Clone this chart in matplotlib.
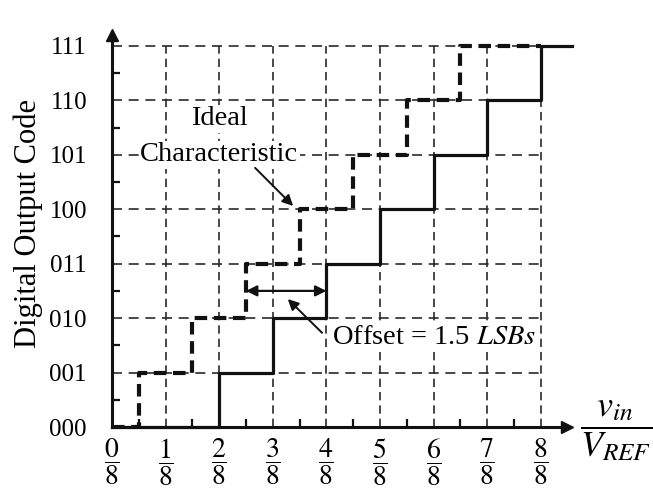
import numpy as np
import matplotlib.pyplot as plt

plt.rcParams['font.family'] = ['Liberation Serif', 'DejaVu Serif']
plt.rcParams['mathtext.fontset'] = 'stix'

# output codes 000..111 and the input levels (in units of V_REF/8)
codes = [0, 1, 2, 3, 4, 5, 6, 7]
code_labels = ['000', '001', '010', '011', '100', '101', '110', '111']
x_ticks = [0, 1, 2, 3, 4, 5, 6, 7, 8]
x_labels = [r'$\dfrac{%d}{8}$' % k for k in x_ticks]

# transition points of the two transfer curves
ideal_steps = [0, 0.5, 1.5, 2.5, 3.5, 4.5, 5.5, 6.5, 8]
actual_steps = [0, 2, 3, 4, 5, 6, 7, 8, 8.58]
step_codes = codes + [7]
offset_lsb = 1.5

fig = plt.figure(figsize=(6.53, 4.92), dpi=100)
ax = fig.add_axes([112 / 653, 65 / 492, 455 / 653, 392 / 492])
ax.set_xlim(0, 8.49)
ax.set_ylim(0, 7.2)

# dashed grid
for k in x_ticks[1:]:
    ax.plot([k, k], [0, 7], color='#2a2a2a', lw=1.2, ls=(0, (5, 3)), zorder=1)
for c in codes[1:]:
    ax.plot([0, 8], [c, c], color='#2a2a2a', lw=1.2, ls=(0, (6, 4)), zorder=1)

# transfer curves
ax.step(ideal_steps, step_codes, where='post', color='#111111', lw=3,
        ls=(0, (3, 1.6)), zorder=3)
ax.step(actual_steps, step_codes, where='post', color='#111111', lw=2.3,
        zorder=3, clip_on=False)

# axes with arrows
for s in ['top', 'right']:
    ax.spines[s].set_visible(False)
for s in ['left', 'bottom']:
    ax.spines[s].set_linewidth(2.2)
    ax.spines[s].set_color('#111111')
ax.plot(1, 0, '>', color='#111111', ms=9, transform=ax.transAxes, clip_on=False)
ax.plot(0, 1, '^', color='#111111', ms=9, transform=ax.transAxes, clip_on=False)

ax.set_yticks(codes)
ax.set_yticklabels(code_labels, fontsize=18)
ax.set_yticks(np.array(codes[:-1]) + 0.5, minor=True)
ax.set_xticks(x_ticks)
ax.set_xticklabels(x_labels, fontsize=20)
ax.set_xticks(np.array(x_ticks[:-1]) + 0.5, minor=True)
ax.tick_params(axis='y', which='major', length=0, pad=18)
ax.tick_params(axis='x', which='major', length=0, pad=7)
ax.tick_params(which='minor', direction='in', length=6, width=1.6, color='#111111')

fig.text(28 / 653, 1 - 223 / 492, 'Digital Output Code', rotation=90,
         fontsize=22, ha='center', va='center')
ax.text(9.4, -0.06, r'$\dfrac{v_{in}}{V_{REF}}$', fontsize=26,
        ha='center', va='center', clip_on=False)

# annotations
box = dict(facecolor='white', edgecolor='none', pad=1)
ax.text(2.0, 5.66, 'Ideal', fontsize=20.5, ha='center', va='center', bbox=box, zorder=4)
ax.text(2.0, 5.0, 'Characteristic', fontsize=20.5, ha='center', va='center',
        bbox=box, zorder=4)
ax.annotate('', xy=(3.38, 4.06), xytext=(2.67, 4.76), zorder=5,
            arrowprops=dict(arrowstyle='-|>', color='#111111', lw=1.4,
                            mutation_scale=16, shrinkA=0, shrinkB=0))
ax.annotate('', xy=(4 - offset_lsb, 2.5), xytext=(4, 2.5), zorder=5,
            arrowprops=dict(arrowstyle='<|-|>', color='#111111', lw=1.6,
                            mutation_scale=16, shrinkA=0, shrinkB=0))
ax.text(4.1, 1.64, r'Offset = 1.5 $LSBs$', fontsize=20.5, ha='left', va='center',
        bbox=box, zorder=4)
ax.annotate('', xy=(3.28, 2.35), xytext=(3.92, 1.73), zorder=5,
            arrowprops=dict(arrowstyle='-|>', color='#111111', lw=1.4,
                            mutation_scale=16, shrinkA=0, shrinkB=0))

fig.savefig('out.png', dpi=100)
